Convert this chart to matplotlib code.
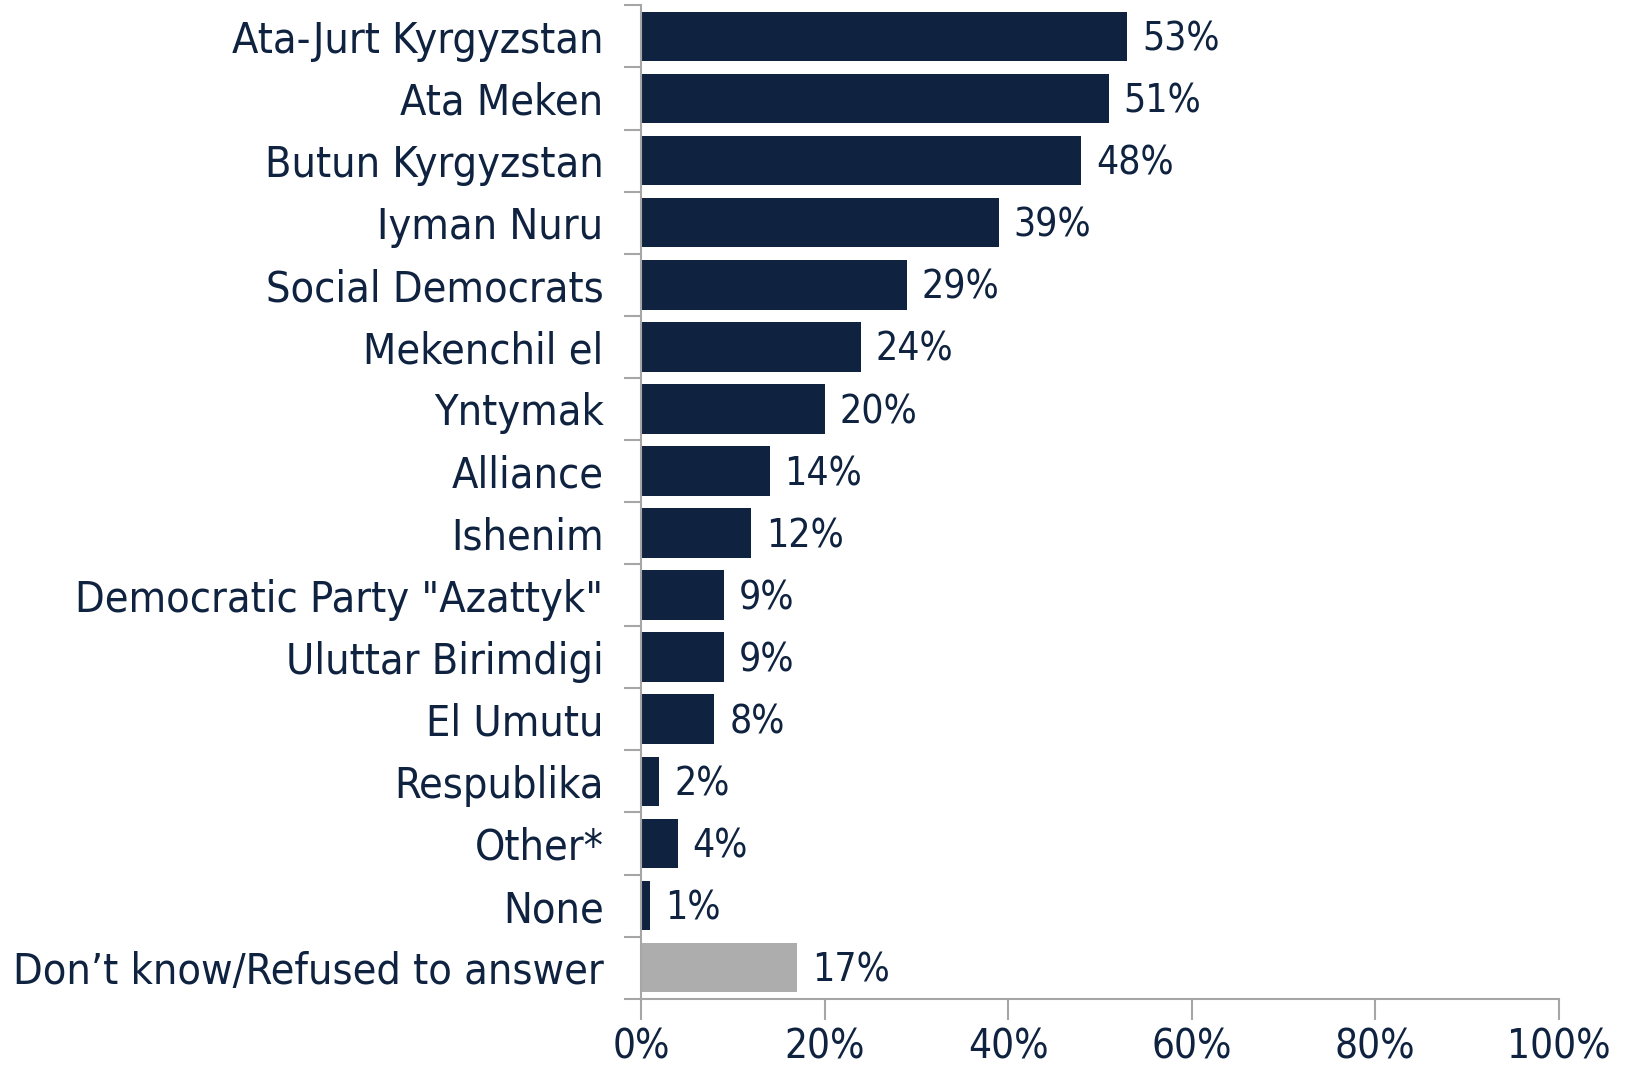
import matplotlib
matplotlib.use('Agg')
import matplotlib.pyplot as plt
from matplotlib.ticker import FixedLocator

parties = ['Ata-Jurt Kyrgyzstan', 'Ata Meken', 'Butun Kyrgyzstan', 'Iyman Nuru',
           'Social Democrats', 'Mekenchil el', 'Yntymak', 'Alliance', 'Ishenim',
           'Democratic Party "Azattyk"', 'Uluttar Birimdigi', 'El Umutu',
           'Respublika', 'Other*', 'None', 'Don\u2019t know/Refused to answer']
values = [53, 51, 48, 39, 29, 24, 20, 14, 12, 9, 9, 8, 2, 4, 1, 17]
ticks = [0, 20, 40, 60, 80, 100]

navy = '#0f2340'
grey = '#adadad'
axis_grey = '#a6a6a6'

plt.rcParams['font.family'] = ['DejaVu Sans']
plt.rcParams['font.stretch'] = 'condensed'

fig = plt.figure(figsize=(16.27, 10.75), dpi=100)
ax = fig.add_axes([0.394, 0.071, 0.564, 0.924])

# last bar (don't know) in grey
colors = [navy] * (len(parties) - 1) + [grey]
y = list(range(len(parties)))
ax.barh(y, values, height=0.8, color=colors)

for yi, v in zip(y, values):
    ax.text(v + 1.6, yi + 0.05, f'{v}%', va='center', ha='left', fontsize=28, color=navy)

ax.set_xlim(0, 100)
ax.set_ylim(len(parties) - 0.5, -0.5)

ax.set_yticks(y)
ax.set_yticklabels(parties, fontsize=31, color=navy)
ax.yaxis.set_minor_locator(FixedLocator([i - 0.5 for i in range(len(parties) + 1)]))
ax.tick_params(axis='y', which='major', length=0, pad=27)
ax.tick_params(axis='y', which='minor', length=12, width=1.5, color=axis_grey)

ax.set_xticks(ticks)
ax.set_xticklabels([f'{t}%' for t in ticks], fontsize=29, color=navy)
ax.tick_params(axis='x', length=15, width=1.5, color=axis_grey, pad=6)

for s in ['top', 'right']:
    ax.spines[s].set_visible(False)
for s in ['left', 'bottom']:
    ax.spines[s].set_color(axis_grey)
    ax.spines[s].set_linewidth(1.5)

fig.savefig('out.png', dpi=100)
